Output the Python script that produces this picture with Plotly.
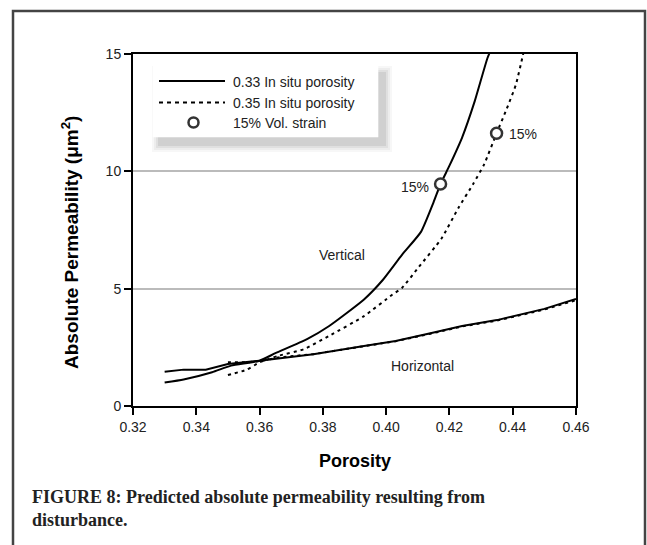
import plotly.graph_objects as go

# ---------------- data ----------------
por_vert_033 = [0.330, 0.336, 0.345, 0.351, 0.360, 0.365, 0.375, 0.382, 0.393, 0.399,
                0.405, 0.411, 0.415, 0.4172, 0.420, 0.424, 0.428, 0.432, 0.4335]
perm_vert_033 = [1.00, 1.13, 1.44, 1.72, 1.93, 2.25, 2.85, 3.41, 4.54, 5.38,
                 6.44, 7.42, 8.69, 9.46, 10.24, 11.44, 12.99, 14.82, 15.3]

por_vert_035 = [0.350, 0.356, 0.360, 0.366, 0.374, 0.382, 0.393, 0.402, 0.405, 0.410,
                0.4175, 0.423, 0.4275, 0.431, 0.4349, 0.438, 0.441, 0.443, 0.4438]
perm_vert_035 = [1.32, 1.55, 1.86, 2.14, 2.42, 2.99, 3.83, 4.75, 5.03, 5.87,
                 7.14, 8.48, 9.46, 10.31, 11.62, 12.63, 13.69, 14.82, 15.3]

por_horiz_033 = [0.330, 0.336, 0.343, 0.350, 0.360, 0.366, 0.377, 0.393, 0.403, 0.414,
                 0.424, 0.435, 0.450, 0.460]
perm_horiz_033 = [1.46, 1.55, 1.55, 1.79, 1.93, 2.03, 2.21, 2.56, 2.77, 3.10,
                  3.41, 3.66, 4.14, 4.56]

por_horiz_035 = [0.350, 0.356, 0.361, 0.366, 0.377, 0.393, 0.403, 0.414, 0.424, 0.435,
                 0.450, 0.460]
perm_horiz_035 = [1.86, 1.86, 1.93, 2.07, 2.21, 2.55, 2.76, 3.08, 3.39, 3.64,
                  4.11, 4.51]

strain_por = [0.4172, 0.4349]
strain_perm = [9.46, 11.62]
strain_labels = ["15%", "15%"]

x_ticks = [0.32, 0.34, 0.36, 0.38, 0.40, 0.42, 0.44, 0.46]
x_tick_text = ["0.32", "0.34", "0.36", "0.38", "0.40", "0.42", "0.44", "0.46"]
y_ticks = [0, 5, 10, 15]

legend_labels = ["0.33 In situ porosity", "0.35 In situ porosity", "15% Vol. strain"]

# ---------------- layout helpers ----------------
W, H = 647, 545
L, R, T, B = 133, 576, 54, 406


def px(x):
    return (x - L) / (R - L)


def py(y):
    return (B - y) / (B - T)


SANS = "Liberation Sans, Arial, Helvetica, sans-serif"
SERIF = "Liberation Serif, Times New Roman, serif"
TXT = "#222222"

fig = go.Figure()

solid = dict(color="black", width=2)
solid_s = dict(color="black", width=2, shape="spline", smoothing=0.5)
dotted = dict(color="black", width=2, dash="3px,4px")
dotted_s = dict(color="black", width=2, dash="3px,4px", shape="spline", smoothing=0.5)

fig.add_trace(go.Scatter(x=por_vert_033, y=perm_vert_033, mode="lines", line=solid_s,
                         name=legend_labels[0], showlegend=False))
fig.add_trace(go.Scatter(x=por_horiz_033, y=perm_horiz_033, mode="lines", line=solid,
                         name=legend_labels[0], showlegend=False))
fig.add_trace(go.Scatter(x=por_vert_035, y=perm_vert_035, mode="lines", line=dotted_s,
                         name=legend_labels[1], showlegend=False))
fig.add_trace(go.Scatter(x=por_horiz_035, y=perm_horiz_035, mode="lines", line=dotted,
                         name=legend_labels[1], showlegend=False))
fig.add_trace(go.Scatter(x=strain_por, y=strain_perm, mode="markers",
                         marker=dict(symbol="circle", size=11, color="white",
                                     line=dict(color="#333333", width=2.5)),
                         name=legend_labels[2], showlegend=False))

shapes = []
# outer figure frame
shapes.append(dict(type="rect", xref="paper", yref="paper",
                   x0=px(13), x1=px(645), y0=py(570), y1=py(11),
                   line=dict(color="#444444", width=2.5), fillcolor="rgba(0,0,0,0)",
                   layer="above"))

# legend shadow (soft)
for k, a in [(6, 0.03), (4, 0.04), (2, 0.05), (0, 0.07)]:
    shapes.append(dict(type="rect", xref="paper", yref="paper",
                       x0=px(158 - k), x1=px(386 + k), y0=py(146 + k), y1=py(72 - k),
                       line=dict(width=0), fillcolor=f"rgba(0,0,0,{a})", layer="above"))
# legend box
shapes.append(dict(type="rect", xref="paper", yref="paper",
                   x0=px(152.7), x1=px(378.3), y0=py(137.3), y1=py(66),
                   line=dict(width=0), fillcolor="white", layer="above"))
# legend samples
shapes.append(dict(type="line", xref="paper", yref="paper",
                   x0=px(159), x1=px(225), y0=py(81), y1=py(81),
                   line=dict(color="black", width=2), layer="above"))
shapes.append(dict(type="line", xref="paper", yref="paper",
                   x0=px(159), x1=px(225), y0=py(102.5), y1=py(102.5),
                   line=dict(color="black", width=2, dash="4px,4px"), layer="above"))
shapes.append(dict(type="circle", xref="paper", yref="paper",
                   x0=px(188.5), x1=px(198.5), y0=py(127.5), y1=py(117.5),
                   line=dict(color="#333333", width=2.5), fillcolor="white", layer="above"))

annotations = []
for lbl, yy in zip(legend_labels, [81.5, 102.5, 122.5]):
    annotations.append(dict(xref="paper", yref="paper", x=px(231), y=py(yy),
                            xanchor="left", yanchor="middle", text=lbl, showarrow=False,
                            font=dict(family=SANS, size=14, color=TXT)))

# strain labels
annotations.append(dict(x=strain_por[0], y=strain_perm[0], text=strain_labels[0],
                        xanchor="right", yanchor="middle", xshift=-10, yshift=-3,
                        showarrow=False, font=dict(family=SANS, size=14, color=TXT)))
annotations.append(dict(x=strain_por[1], y=strain_perm[1], text=strain_labels[1],
                        xanchor="left", yanchor="middle", xshift=10, yshift=-1,
                        showarrow=False, font=dict(family=SANS, size=14, color=TXT)))
annotations.append(dict(x=0.3859, y=6.44, text="Vertical", showarrow=False,
                        font=dict(family=SANS, size=14, color=TXT)))
annotations.append(dict(x=0.4115, y=1.72, text="Horizontal", showarrow=False,
                        font=dict(family=SANS, size=14, color=TXT)))

# axis titles
annotations.append(dict(xref="paper", yref="paper", x=px(70), y=py(243),
                        xanchor="center", yanchor="middle", textangle=-90, showarrow=False,
                        text="<b>Absolute Permeability (μm<sup>2</sup>)</b>",
                        font=dict(family=SANS, size=19, color="black")))
annotations.append(dict(xref="paper", yref="paper", x=px(354.5), y=py(461),
                        xanchor="center", yanchor="middle", showarrow=False,
                        text="<b>Porosity</b>",
                        font=dict(family=SANS, size=18, color="black")))

# caption
annotations.append(dict(xref="paper", yref="paper", x=px(30), y=py(509),
                        xanchor="left", yanchor="middle", align="left", showarrow=False,
                        text="<b>FIGURE 8: Predicted absolute permeability resulting from<br>disturbance.</b>",
                        font=dict(family=SERIF, size=18, color=TXT)))

fig.update_layout(
    width=W, height=H, autosize=False,
    margin=dict(l=L, r=W - R, t=T, b=H - B, pad=0),
    paper_bgcolor="white", plot_bgcolor="white",
    showlegend=False,
    shapes=shapes, annotations=annotations,
    xaxis=dict(range=[0.32, 0.46], tickvals=x_ticks, ticktext=x_tick_text,
               showline=True, mirror=True, linecolor="black", linewidth=2,
               ticks="outside", ticklen=7, tickwidth=2, tickcolor="black",
               showgrid=False, zeroline=False,
               tickfont=dict(family=SANS, size=14, color=TXT)),
    yaxis=dict(range=[0, 15], tickvals=y_ticks,
               showline=True, mirror=True, linecolor="black", linewidth=2,
               ticks="outside", ticklen=7, tickwidth=2, tickcolor="black",
               showgrid=True, gridcolor="#bbbbbb", gridwidth=1.5, zeroline=False,
               tickfont=dict(family=SANS, size=14, color=TXT)),
)

fig.write_html("out.html")
